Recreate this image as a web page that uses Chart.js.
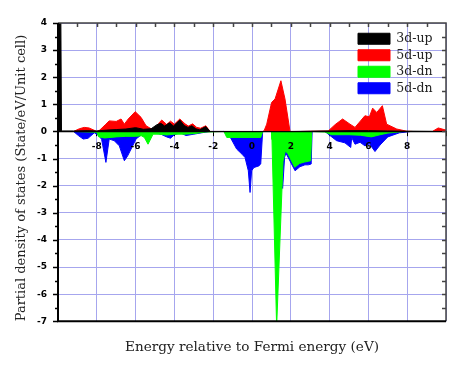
<!DOCTYPE html>
<html>
<head>
<meta charset="utf-8">
<script src="https://cdn.jsdelivr.net/npm/chart.js@4.4.1/dist/chart.umd.min.js"></script>
<style>
  html, body { margin: 0; padding: 0; background: #fff; }
  #wrap { width: 462px; height: 367px; }
</style>
</head>
<body>
<div id="wrap"><canvas id="pdos"></canvas></div>
<script>
// PDOS: energy (eV) and states/eV/unit cell
var up3dE = [-10, -9.86, -9.82, -9.2, -8.5, -8.0, -7.5, -7.0, -6.5, -6.0, -5.6, -5.2, -4.9, -4.7, -4.5, -4.25, -4.05, -3.72, -3.5, -3.3, -3.1, -2.9, -2.7, -2.38, -2.16, -1.5, 0, 1, 2, 3, 4, 5, 6, 7, 8, 10];
var up3dV = [5, 5, 0.02, 0.02, 0.03, 0.02, 0.05, 0.07, 0.09, 0.14, 0.08, 0.1, 0.25, 0.3, 0.2, 0.32, 0.2, 0.42, 0.22, 0.15, 0.21, 0.1, 0.06, 0.18, 0, 0, 0, 0, 0, 0.01, 0.02, 0.03, 0.03, 0.02, 0.01, 0];

var up5dE = [-9.2, -8.9, -8.65, -8.4, -8.0, -7.85, -7.53, -7.36, -7.0, -6.75, -6.58, -6.38, -6.02, -5.72, -5.46, -5.2, -4.94, -4.78, -4.65, -4.4, -4.2, -4.0, -3.72, -3.45, -3.28, -3.06, -2.85, -2.65, -2.38, -2.16, -1.5, 0.55, 0.62, 0.76, 1.01, 1.19, 1.49, 1.7, 1.96, 2.5, 3.93, 4.28, 4.67, 5.05, 5.31, 5.82, 6.05, 6.22, 6.43, 6.72, 6.94, 7.46, 7.97, 8.3, 9.3, 9.6, 10];
var up5dV = [0, 0.1, 0.15, 0.13, 0, 0.05, 0.27, 0.39, 0.37, 0.46, 0.27, 0.46, 0.73, 0.52, 0.21, 0.1, 0.12, 0.33, 0.42, 0.26, 0.38, 0.27, 0.46, 0.28, 0.2, 0.28, 0.15, 0.12, 0.21, 0, 0, 0, 0.02, 0.27, 1.07, 1.2, 1.87, 1.2, 0, 0, 0.02, 0.25, 0.46, 0.27, 0.15, 0.58, 0.54, 0.86, 0.7, 0.95, 0.27, 0.09, 0.01, 0, 0, 0.13, 0.05];

var dn3dE = [-9.2, -8.0, -7.9, -7.6, -7.0, -6.5, -6.0, -5.7, -5.55, -5.36, -5.1, -4.8, -4.4, -4.0, -3.5, -3.0, -2.4, -1.45, -1.3, 0.45, 0.55, 1.0, 1.03, 1.27, 1.6, 1.72, 1.85, 2.2, 2.45, 2.7, 2.9, 3.02, 3.08, 3.76, 4.1, 5.0, 5.6, 6.15, 6.6, 7.0, 7.8, 10];
var dn3dV = [0, -0.03, -0.2, -0.24, -0.2, -0.18, -0.18, -0.16, -0.22, -0.47, -0.1, -0.1, -0.13, -0.1, -0.1, -0.08, -0.02, 0, -0.22, -0.22, 0, 0, -0.3, -7.2, -1.1, -0.72, -0.82, -1.32, -1.18, -1.13, -1.1, -1.08, 0, -0.02, -0.12, -0.12, -0.14, -0.2, -0.12, -0.06, 0, 0];

var dn5dE = [-9.2, -8.95, -8.7, -8.45, -8.13, -7.87, -7.75, -7.53, -7.36, -7.1, -6.84, -6.58, -6.41, -6.15, -5.98, -5.7, -5.1, -4.7, -4.4, -4.2, -4.0, -3.7, -3.4, -3.0, -2.6, -2.2, -1.45, -1.13, -0.79, -0.5, -0.36, -0.19, -0.1, -0.02, 0.1, 0.35, 0.45, 0.55, 1.0, 1.58, 1.68, 1.75, 2.22, 2.47, 2.73, 2.9, 3.05, 3.1, 3.76, 4.02, 4.36, 4.79, 5.09, 5.14, 5.31, 5.57, 5.82, 6.05, 6.34, 6.6, 7.0, 7.6, 8.2, 10];
var dn5dV = [0, -0.15, -0.28, -0.25, -0.05, -0.16, -0.3, -1.14, -0.28, -0.34, -0.53, -1.08, -0.9, -0.53, -0.28, -0.12, -0.05, -0.1, -0.2, -0.25, -0.12, -0.05, -0.15, -0.1, -0.05, 0, 0, -0.2, -0.65, -0.85, -0.96, -1.45, -2.25, -1.45, -1.33, -1.27, -1.2, 0, 0, -2.1, -0.95, -0.8, -1.45, -1.3, -1.23, -1.23, -1.2, 0, 0, -0.15, -0.34, -0.42, -0.59, -0.22, -0.47, -0.4, -0.53, -0.45, -0.74, -0.5, -0.2, -0.05, 0, 0];

var seriesNames = ['3d-up', '5d-up', '3d-dn', '5d-dn'];
var seriesColors = ['#000000', '#ff0000', '#00ff00', '#0000ff'];
var xMin = -10, xMax = 10, yMin = -7, yMax = 4;

function pts(es, vs) {
  return es.map(function (e, i) { return { x: e, y: vs[i] }; });
}

var allData = [pts(up3dE, up3dV), pts(up5dE, up5dV), pts(dn3dE, dn3dV), pts(dn5dE, dn5dV)];

// frame round the plot with inward ticks on top/right, outward on the left
var framePlugin = {
  id: 'frame',
  afterDraw: function (chart) {
    var ctx = chart.ctx, a = chart.chartArea;
    var xs = chart.scales.x, ys = chart.scales.y;
    ctx.save();
    ctx.strokeStyle = '#444';
    ctx.lineWidth = 1.5;
    ctx.beginPath();
    ctx.moveTo(a.left, a.top); ctx.lineTo(a.right, a.top); ctx.lineTo(a.right, a.bottom);
    for (var e = xMin + 1; e < xMax; e += 1) {
      var px = Math.round(xs.getPixelForValue(e)) + 0.5;
      ctx.moveTo(px, a.top); ctx.lineTo(px, a.top + 4);
    }
    for (var v = yMin + 0.5; v < yMax; v += 0.5) {
      var py = Math.round(ys.getPixelForValue(v)) + 0.5;
      ctx.moveTo(a.right, py); ctx.lineTo(a.right - 4, py);
    }
    ctx.stroke();
    ctx.strokeStyle = '#000';
    ctx.lineWidth = 1.5;
    ctx.beginPath();
    for (var w = yMin; w <= yMax; w += 0.5) {
      var qy = Math.round(ys.getPixelForValue(w)) + 0.5;
      ctx.moveTo(a.left, qy); ctx.lineTo(a.left - (w % 1 === 0 ? 5 : 3), qy);
    }
    ctx.stroke();
    ctx.lineWidth = 2;
    ctx.beginPath();
    ctx.moveTo(a.left, a.top); ctx.lineTo(a.left, a.bottom); ctx.lineTo(a.right, a.bottom);
    ctx.stroke();
    ctx.restore();
  }
};

// put the legend in the top right corner of the plot
var legendCorner = {
  id: 'legendCorner',
  afterLayout: function (chart) {
    var lg = chart.legend;
    if (!lg) return;
    var w = lg.width, h = lg.height;
    lg.left = 354; lg.right = lg.left + w;
    lg.top = 28.5; lg.bottom = lg.top + h;
  }
};

new Chart(document.getElementById('pdos'), {
  type: 'line',
  data: {
    datasets: allData.map(function (d, i) {
      return {
        label: seriesNames[i],
        data: d,
        borderColor: seriesColors[i],
        backgroundColor: seriesColors[i],
        borderWidth: 1,
        pointRadius: 0,
        tension: 0,
        fill: 'origin'
      };
    })
  },
  options: {
    responsive: true,
    maintainAspectRatio: false,
    animation: false,
    layout: { padding: { left: 8, right: 16, top: 23, bottom: 11.6 } },
    plugins: {
      tooltip: { enabled: false },
      legend: {
        position: 'chartArea',
        align: 'start',
        fullSize: false,
        labels: {
          boxWidth: 32,
          boxHeight: 11,
          padding: 4,
          color: '#222',
          font: { family: 'DejaVu Serif', size: 12.5 }
        }
      },
      title: {
        display: true,
        position: 'bottom',
        fullSize: false,
        text: 'Energy relative to Fermi energy (eV)',
        color: '#222',
        font: { family: 'DejaVu Serif', size: 13.6, weight: 'normal' },
        padding: { top: 17.8, bottom: 0 }
      }
    },
    scales: {
      x: {
        type: 'linear',
        min: xMin,
        max: xMax,
        position: { y: 0 },
        afterFit: function (scale) { scale.height = 0; },
        grid: { color: '#a6a6ee', lineWidth: 1, tickLength: 4, tickColor: '#000' },
        border: { display: true, color: '#000', width: 1.2, z: 1 },
        ticks: {
          stepSize: 2,
          padding: 6,
          z: 1,
          color: '#000',
          maxRotation: 0,
          font: { family: 'DejaVu Sans', size: 9, weight: 'bold' },
          callback: function (v) { return (v === xMin || v === xMax) ? '' : v; }
        }
      },
      y: {
        min: yMin,
        max: yMax,
        afterFit: function (scale) { scale.width = 50; },
        grid: { color: '#a6a6ee', lineWidth: 1, drawTicks: false },
        border: { display: false },
        ticks: {
          stepSize: 1,
          padding: 11,
          color: '#000',
          font: { family: 'DejaVu Sans', size: 9, weight: 'bold' }
        },
        title: {
          display: true,
          align: 'start',
          text: 'Partial density of states (State/eV/Unit cell)',
          color: '#222',
          font: { family: 'DejaVu Serif', size: 13 },
          padding: { top: 6, bottom: 0 }
        }
      }
    }
  },
  plugins: [framePlugin, legendCorner]
});
</script>
</body>
</html>
